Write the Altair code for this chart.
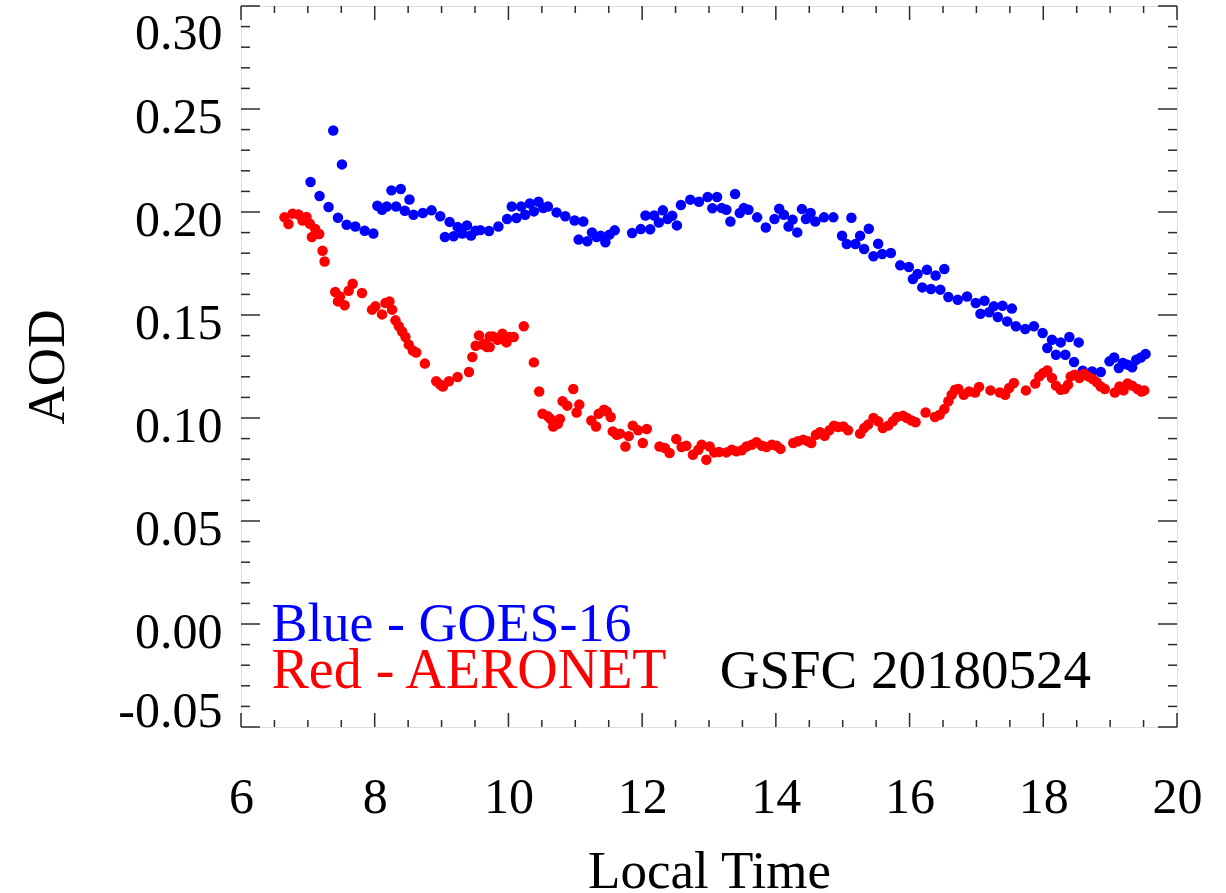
import altair as alt
import pandas as pd

# GOES-16 retrievals (local time in hours, AOD)
goes_time = [7.04, 7.175, 7.31, 7.38, 7.45, 7.51, 7.58, 7.71, 7.85, 7.98,
             8.04, 8.11, 8.18, 8.25, 8.32, 8.39, 8.45, 8.52, 8.58, 8.72,
             8.85, 8.98, 9.05, 9.12, 9.18, 9.24, 9.31, 9.38, 9.44, 9.51,
             9.58, 9.71, 9.85, 9.98, 10.05, 10.12, 10.19, 10.25, 10.32, 10.38,
             10.45, 10.52, 10.59, 10.72, 10.85, 10.99, 11.05, 11.12, 11.18, 11.25,
             11.32, 11.38, 11.45, 11.51, 11.59, 11.85, 11.98, 12.05, 12.12, 12.18,
             12.25, 12.31, 12.38, 12.45, 12.52, 12.58, 12.72, 12.85, 12.98, 13.05,
             13.12, 13.19, 13.26, 13.32, 13.39, 13.46, 13.52, 13.59, 13.72, 13.85,
             13.98, 14.05, 14.12, 14.19, 14.25, 14.32, 14.39, 14.45, 14.52, 14.59,
             14.72, 14.86, 14.99, 15.06, 15.13, 15.19, 15.26, 15.32, 15.39, 15.46,
             15.53, 15.59, 15.72, 15.86, 15.99, 16.05, 16.12, 16.19, 16.26, 16.32,
             16.39, 16.46, 16.52, 16.58, 16.72, 16.86, 16.99, 17.06, 17.12, 17.19,
             17.26, 17.32, 17.39, 17.46, 17.53, 17.59, 17.73, 17.86, 17.99, 18.06,
             18.13, 18.19, 18.26, 18.33, 18.39, 18.46, 18.53, 18.59, 18.73, 18.86,
             18.99, 19.06, 19.13, 19.19, 19.26, 19.33, 19.39, 19.46, 19.53]
goes_aod = [0.2146, 0.2078, 0.2024, 0.2396, 0.1972, 0.2231, 0.1938, 0.1930, 0.1909, 0.1896,
            0.2030, 0.2011, 0.2027, 0.2105, 0.2027, 0.2112, 0.2006, 0.2061, 0.1987, 0.1995,
            0.2008, 0.1979, 0.1879, 0.1952, 0.1882, 0.1927, 0.1895, 0.1935, 0.1886, 0.1909,
            0.1912, 0.1908, 0.1930, 0.1966, 0.2027, 0.1971, 0.2027, 0.1987, 0.2041, 0.2003,
            0.2050, 0.2019, 0.2027, 0.1998, 0.1979, 0.1959, 0.1866, 0.1954, 0.1858, 0.1901,
            0.1879, 0.1885, 0.1853, 0.1890, 0.1911, 0.1898, 0.1917, 0.1983, 0.1916, 0.1983,
            0.1949, 0.2008, 0.1966, 0.1982, 0.1935, 0.2034, 0.2060, 0.2050, 0.2073, 0.2018,
            0.2073, 0.2019, 0.2011, 0.1954, 0.2087, 0.1995, 0.2019, 0.2011, 0.1974, 0.1925,
            0.1966, 0.2016, 0.1987, 0.1930, 0.1963, 0.1901, 0.2014, 0.1966, 0.1995, 0.1954,
            0.1974, 0.1974, 0.1885, 0.1845, 0.1972, 0.1845, 0.1885, 0.1820, 0.1919, 0.1785,
            0.1846, 0.1796, 0.1801, 0.1741, 0.1733, 0.1675, 0.1699, 0.1634, 0.1720, 0.1626,
            0.1692, 0.1623, 0.1723, 0.1587, 0.1574, 0.1590, 0.1558, 0.1506, 0.1569, 0.1513,
            0.1542, 0.1490, 0.1545, 0.1469, 0.1531, 0.1445, 0.1432, 0.1445, 0.1413, 0.1340,
            0.1380, 0.1307, 0.1367, 0.1307, 0.1393, 0.1272, 0.1367, 0.1230, 0.1226, 0.1223,
            0.1275, 0.1294, 0.1243, 0.1267, 0.1259, 0.1246, 0.1283, 0.1294, 0.1311]

# AERONET observations (local time in hours, AOD)
aeronet_time = [6.65, 6.71, 6.77, 6.86, 6.92, 6.98, 7.03, 7.06, 7.11, 7.17,
                7.22, 7.25, 7.41, 7.45, 7.48, 7.55, 7.61, 7.67, 7.81, 7.96,
                8.01, 8.11, 8.16, 8.22, 8.26, 8.31, 8.36, 8.41, 8.46, 8.51,
                8.57, 8.62, 8.75, 8.92, 8.98, 9.02, 9.11, 9.24, 9.41, 9.46,
                9.51, 9.56, 9.62, 9.64, 9.68, 9.72, 9.72, 9.77, 9.84, 9.91,
                9.97, 10.02, 10.08, 10.23, 10.38, 10.46, 10.51, 10.59, 10.63, 10.67,
                10.74, 10.77, 10.81, 10.88, 10.97, 11.02, 11.06, 11.24, 11.31, 11.35,
                11.43, 11.47, 11.53, 11.56, 11.62, 11.67, 11.75, 11.80, 11.86, 11.94,
                12.01, 12.07, 12.26, 12.34, 12.41, 12.51, 12.59, 12.66, 12.76, 12.84,
                12.89, 12.96, 13.01, 13.08, 13.15, 13.26, 13.34, 13.41, 13.49, 13.56,
                13.64, 13.71, 13.79, 13.86, 13.94, 14.01, 14.07, 14.26, 14.33, 14.41,
                14.48, 14.53, 14.60, 14.66, 14.73, 14.80, 14.87, 14.93, 15.01, 15.08,
                15.26, 15.32, 15.38, 15.46, 15.53, 15.60, 15.68, 15.75, 15.81, 15.90,
                15.96, 16.03, 16.09, 16.24, 16.38, 16.45, 16.52, 16.58, 16.63, 16.68,
                16.73, 16.81, 16.89, 16.98, 17.04, 17.21, 17.35, 17.43, 17.49, 17.56,
                17.74, 17.88, 17.94, 18.00, 18.06, 18.13, 18.19, 18.26, 18.32, 18.37,
                18.41, 18.47, 18.54, 18.61, 18.67, 18.74, 18.80, 18.86, 18.92, 19.07,
                19.14, 19.20, 19.26, 19.33, 19.41, 19.47, 19.51]
aeronet_aod = [0.1974, 0.1942, 0.1992, 0.1988, 0.1959, 0.1976, 0.1943, 0.1879, 0.1918, 0.1893,
               0.1812, 0.1760, 0.1612, 0.1566, 0.1590, 0.1547, 0.1618, 0.1652, 0.1607, 0.1526,
               0.1542, 0.1503, 0.1558, 0.1566, 0.1526, 0.1474, 0.1445, 0.1420, 0.1393, 0.1356,
               0.1328, 0.1318, 0.1264, 0.1178, 0.1162, 0.1153, 0.1178, 0.1199, 0.1223, 0.1296,
               0.1351, 0.1401, 0.1356, 0.1361, 0.1345, 0.1396, 0.1345, 0.1396, 0.1380, 0.1409,
               0.1367, 0.1393, 0.1393, 0.1445, 0.1270, 0.1129, 0.1021, 0.1008, 0.0995, 0.0959,
               0.0972, 0.0995, 0.1081, 0.1060, 0.1141, 0.1027, 0.1065, 0.0988, 0.0959, 0.1021,
               0.1040, 0.1032, 0.1005, 0.0935, 0.0919, 0.0924, 0.0862, 0.0912, 0.0963, 0.0940,
               0.0879, 0.0947, 0.0862, 0.0854, 0.0830, 0.0898, 0.0859, 0.0865, 0.0822, 0.0846,
               0.0870, 0.0797, 0.0862, 0.0833, 0.0835, 0.0833, 0.0846, 0.0838, 0.0843, 0.0862,
               0.0870, 0.0882, 0.0865, 0.0859, 0.0870, 0.0865, 0.0850, 0.0879, 0.0887, 0.0895,
               0.0887, 0.0879, 0.0919, 0.0931, 0.0914, 0.0940, 0.0963, 0.0956, 0.0959, 0.0940,
               0.0924, 0.0951, 0.0968, 0.1000, 0.0984, 0.0951, 0.0963, 0.0984, 0.1005, 0.1011,
               0.1000, 0.0988, 0.0979, 0.1027, 0.1005, 0.1016, 0.1044, 0.1081, 0.1113, 0.1137,
               0.1141, 0.1113, 0.1129, 0.1124, 0.1151, 0.1134, 0.1124, 0.1113, 0.1146, 0.1170,
               0.1134, 0.1167, 0.1202, 0.1219, 0.1231, 0.1194, 0.1157, 0.1137, 0.1141, 0.1162,
               0.1202, 0.1210, 0.1194, 0.1215, 0.1202, 0.1189, 0.1173, 0.1153, 0.1141, 0.1124,
               0.1153, 0.1134, 0.1167, 0.1157, 0.1141, 0.1129, 0.1134]

# Axis ticks
x_labels = [6, 8, 10, 12, 14, 16, 18, 20]
x_minor = [6.5, 7, 7.5, 8.5, 9, 9.5, 10.5, 11, 11.5, 12.5, 13, 13.5,
           14.5, 15, 15.5, 16.5, 17, 17.5, 18.5, 19, 19.5]
y_labels = [-0.05, 0.0, 0.05, 0.10, 0.15, 0.20, 0.25, 0.30]
y_minor = [-0.04, -0.03, -0.02, -0.01, 0.01, 0.02, 0.03, 0.04, 0.06, 0.07,
           0.08, 0.09, 0.11, 0.12, 0.13, 0.14, 0.16, 0.17, 0.18, 0.19,
           0.21, 0.22, 0.23, 0.24, 0.26, 0.27, 0.28, 0.29]

W, H = 936, 721
FONT = "Liberation Serif"
INK = "#2b2b2b"
DOT = 110

xs = alt.Scale(domain=[6, 20], nice=False, zero=False)
ys = alt.Scale(domain=[-0.05, 0.30], nice=False, zero=False)

goes = pd.DataFrame({"t": goes_time, "aod": goes_aod})
aeronet = pd.DataFrame({"t": aeronet_time, "aod": aeronet_aod})

x_axis = alt.Axis(
    values=x_labels, format="d", ticks=False, domain=False, grid=False,
    labelFont=FONT, labelFontSize=50, labelColor="black", labelPadding=45,
    labelFlush=False, labelOverlap=False, labelBound=False,
    title="Local Time", titleFont=FONT, titleFontSize=53, titleFontWeight="normal",
    titleColor="black", titleX=W / 2, titleY=160, titleAlign="center",
    titleBaseline="alphabetic",
)
y_axis = alt.Axis(
    values=y_labels, ticks=False, domain=False, grid=False,
    labelExpr="replace(format(datum.value, '.2f'), '\u2212', '-')",
    labelFont=FONT, labelFontSize=50, labelColor="black", labelPadding=19,
    labelFlush=False, labelOverlap=False, labelBound=False,
    labelOffset={"condition": [{"test": "datum.value > 0.29", "value": 27},
                               {"test": "datum.value < -0.04", "value": -16}],
                 "value": 8},
    title="AOD", titleFont=FONT, titleFontSize=53, titleFontWeight="normal",
    titleColor="black", titleAngle=270, titleX=-178, titleY=H / 2,
    titleAlign="center", titleBaseline="alphabetic",
)

blue = alt.Chart(goes).mark_circle(size=DOT, opacity=1, color="#0000ff").encode(
    x=alt.X("t:Q", scale=xs, axis=x_axis),
    y=alt.Y("aod:Q", scale=ys, axis=y_axis),
)
red = alt.Chart(aeronet).mark_circle(size=DOT, opacity=1, color="#ff0000").encode(
    x=alt.X("t:Q", scale=xs),
    y=alt.Y("aod:Q", scale=ys),
)


def xticks(values, length):
    df = pd.DataFrame({"t": values})
    base = alt.Chart(df).mark_rule(color=INK, strokeWidth=1.5)
    bottom = base.encode(x=alt.X("t:Q", scale=xs), y=alt.value(H), y2=alt.value(H - length))
    top = base.encode(x=alt.X("t:Q", scale=xs), y=alt.value(0), y2=alt.value(length))
    return [bottom, top]


def yticks(values, length):
    df = pd.DataFrame({"aod": values})
    base = alt.Chart(df).mark_rule(color=INK, strokeWidth=1.5)
    left = base.encode(y=alt.Y("aod:Q", scale=ys), x=alt.value(0), x2=alt.value(length))
    right = base.encode(y=alt.Y("aod:Q", scale=ys), x=alt.value(W), x2=alt.value(W - length))
    return [left, right]


def note(text, t, aod, color, size):
    return alt.Chart(pd.DataFrame({"k": [0]})).mark_text(
        text=text, font=FONT, fontSize=size, color=color, align="left", baseline="alphabetic"
    ).encode(x=alt.datum(t, scale=xs), y=alt.datum(aod, scale=ys))


tick_layers = xticks(x_labels, 14) + xticks(x_minor, 7) + yticks(y_labels, 19) + yticks(y_minor, 9)

chart = alt.layer(
    blue, red, *tick_layers,
    note("Blue - GOES-16", 6.456, -0.0081, "#0000ff", 54),
    note("Red - AERONET", 6.456, -0.0309, "#ff0000", 56),
    note("GSFC 20180524", 13.16, -0.0309, "black", 55),
).properties(
    width=W, height=H,
    autosize=alt.AutoSizeParams(type="none"),
    padding={"left": 241, "top": 6, "right": 49, "bottom": 166},
).configure_view(
    stroke=INK, strokeWidth=1.5
).configure(background="white")

chart.save("out.html", embed_options={"renderer": "svg", "actions": False})
